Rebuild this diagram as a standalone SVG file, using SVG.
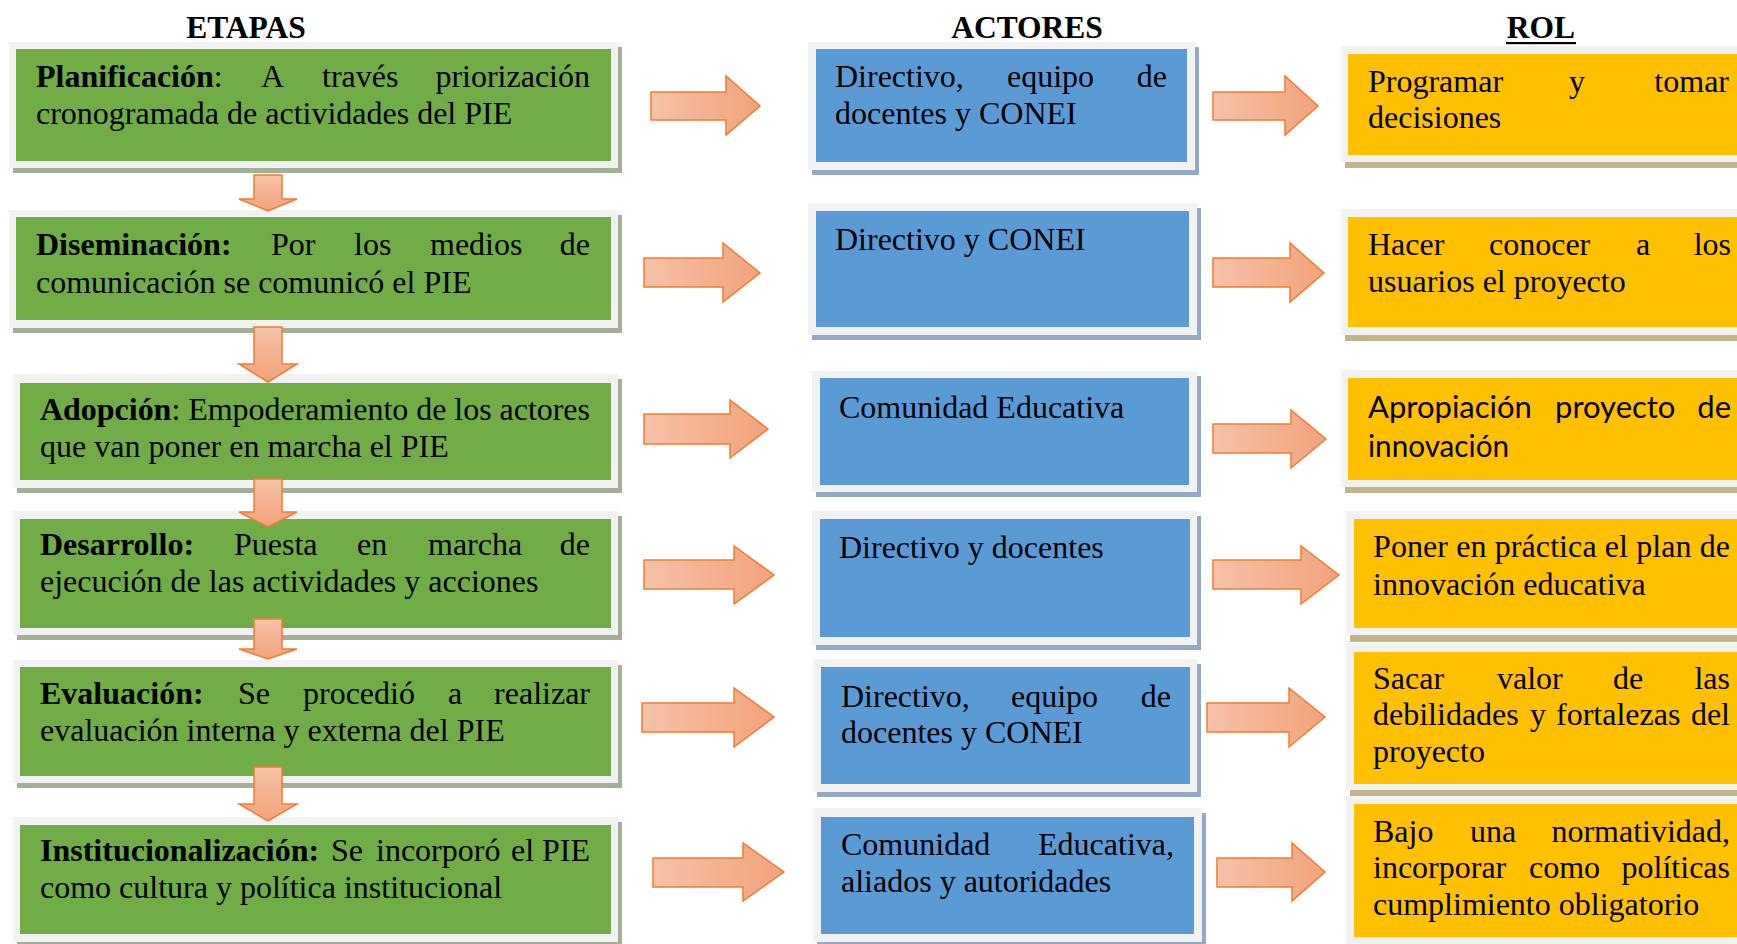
<svg xmlns="http://www.w3.org/2000/svg" width="1737" height="944" viewBox="0 0 1737 944">
<defs>
<linearGradient id="gh" x1="0" y1="0" x2="1" y2="0"><stop offset="0" stop-color="#f6c2a8"/><stop offset="1" stop-color="#f3a27b"/></linearGradient>
<linearGradient id="gv" x1="0" y1="0" x2="0" y2="1"><stop offset="0" stop-color="#f6c2a8"/><stop offset="1" stop-color="#f3a27b"/></linearGradient>
<style>
.fr{fill:#f2f2f2}
.sg{fill:#a3b096}.sb{fill:#94a9c2}.sy{fill:#c4b48c}
.g{fill:#70ad47}.b{fill:#5b9bd5}.y{fill:#ffc000}
.t{font-family:"Liberation Serif","Times New Roman",serif;font-size:32px;fill:#000}
.s{font-family:Lato,"Liberation Sans",sans-serif;font-size:31px;fill:#000}
.bd{font-weight:bold}
.h{font-family:"Liberation Serif","Times New Roman",serif;font-size:31.5px;font-weight:bold;fill:#000;text-anchor:middle}
.ah{fill:url(#gh);stroke:#ed7d31;stroke-width:1.5}
.av{fill:url(#gv);stroke:#ed7d31;stroke-width:1.5}
.e{text-anchor:end}
</style>
</defs>
<rect width="1737" height="944" fill="#fff"/>
<g id="headers">
<text class="h" x="246" y="38">ETAPAS</text>
<text class="h" x="1027" y="38">ACTORES</text>
<text class="h" x="1541" y="38">ROL</text>
<rect x="1506" y="42" width="70" height="2.2" fill="#000"/>
</g>
<g id="etapa1">
<rect class="sg" x="13" y="47" width="609" height="126"/><rect class="fr" x="9" y="42" width="609" height="126"/><rect class="g" x="16" y="49" width="595" height="112"/>
<text class="t" y="87"><tspan x="36" class="bd">Planificación</tspan><tspan>:</tspan><tspan x="261">A</tspan><tspan x="322">través</tspan><tspan x="590" class="e">priorización</tspan></text>
<text class="t" x="36" y="124">cronogramada de actividades del PIE</text>
</g>
<g id="etapa2">
<rect class="sg" x="13" y="215" width="609" height="118"/><rect class="fr" x="9" y="210" width="609" height="118"/><rect class="g" x="16" y="217" width="595" height="103"/>
<text class="t" y="255"><tspan x="36" class="bd">Diseminación:</tspan><tspan x="271">Por</tspan><tspan x="354">los</tspan><tspan x="430">medios</tspan><tspan x="590" class="e">de</tspan></text>
<text class="t" x="36" y="293">comunicación se comunicó el PIE</text>
</g>
<g id="etapa3">
<rect class="sg" x="17" y="379" width="605" height="114"/><rect class="fr" x="13" y="374" width="605" height="114"/><rect class="g" x="20" y="383" width="591" height="97"/>
<text class="t" y="420" x="40" textLength="550" lengthAdjust="spacing"><tspan class="bd">Adopción</tspan>: Empoderamiento de los actores</text>
<text class="t" x="40" y="457">que van poner en marcha el PIE</text>
</g>
<g id="etapa4">
<rect class="sg" x="17" y="516" width="605" height="124"/><rect class="fr" x="13" y="511" width="605" height="124"/><rect class="g" x="20" y="519" width="591" height="109"/>
<text class="t" y="555"><tspan x="40" class="bd">Desarrollo:</tspan><tspan x="234">Puesta</tspan><tspan x="357">en</tspan><tspan x="428">marcha</tspan><tspan x="590" class="e">de</tspan></text>
<text class="t" x="40" y="592">ejecución de las actividades y acciones</text>
</g>
<g id="etapa5">
<rect class="sg" x="17" y="665" width="605" height="123"/><rect class="fr" x="13" y="660" width="605" height="123"/><rect class="g" x="20" y="667" width="591" height="109"/>
<text class="t" y="704"><tspan x="40" class="bd">Evaluación:</tspan><tspan x="238">Se</tspan><tspan x="303">procedió</tspan><tspan x="448">a</tspan><tspan x="590" class="e">realizar</tspan></text>
<text class="t" x="40" y="741">evaluación interna y externa del PIE</text>
</g>
<g id="etapa6">
<rect class="sg" x="17" y="822" width="605" height="125"/><rect class="fr" x="13" y="817" width="605" height="125"/><rect class="g" x="20" y="825" width="591" height="109"/>
<text class="t" y="861"><tspan x="40" class="bd">Institucionalización:</tspan><tspan x="331">Se</tspan><tspan x="376">incorporó</tspan><tspan x="511">el</tspan><tspan x="590" class="e">PIE</tspan></text>
<text class="t" x="40" y="898">como cultura y política institucional</text>
</g>
<g id="actor1">
<rect class="sb" x="812" y="47" width="387" height="128"/><rect class="fr" x="808" y="42" width="387" height="128"/><rect class="b" x="816" y="49" width="371" height="113"/>
<text class="t" y="87"><tspan x="835">Directivo,</tspan><tspan x="1007">equipo</tspan><tspan x="1167" class="e">de</tspan></text>
<text class="t" x="835" y="124">docentes y CONEI</text>
</g>
<g id="actor2">
<rect class="sb" x="812" y="208" width="389" height="132"/><rect class="fr" x="808" y="203" width="389" height="132"/><rect class="b" x="816" y="211" width="373" height="116"/>
<text class="t" x="835" y="250">Directivo y CONEI</text>
</g>
<g id="actor3">
<rect class="sb" x="816" y="376" width="385" height="121"/><rect class="fr" x="812" y="371" width="385" height="121"/><rect class="b" x="820" y="378" width="369" height="107"/>
<text class="t" x="839" y="418">Comunidad Educativa</text>
</g>
<g id="actor4">
<rect class="sb" x="816" y="516" width="385" height="134"/><rect class="fr" x="812" y="511" width="385" height="134"/><rect class="b" x="820" y="519" width="370" height="118"/>
<text class="t" x="839" y="558">Directivo y docentes</text>
</g>
<g id="actor5">
<rect class="sb" x="817" y="664" width="384" height="133"/><rect class="fr" x="813" y="659" width="384" height="133"/><rect class="b" x="821" y="667" width="369" height="117"/>
<text class="t" y="707"><tspan x="841">Directivo,</tspan><tspan x="1011">equipo</tspan><tspan x="1171" class="e">de</tspan></text>
<text class="t" x="841" y="743">docentes y CONEI</text>
</g>
<g id="actor6">
<rect class="sb" x="817" y="813" width="389" height="134"/><rect class="fr" x="813" y="808" width="389" height="134"/><rect class="b" x="821" y="817" width="373" height="117"/>
<text class="t" y="855"><tspan x="841">Comunidad</tspan><tspan x="1174" class="e">Educativa,</tspan></text>
<text class="t" x="841" y="892">aliados y autoridades</text>
</g>
<g id="rol1">
<rect class="sy" x="1345" y="51" width="400" height="117"/><rect class="fr" x="1341" y="46" width="400" height="116"/><rect class="y" x="1348" y="54" width="400" height="101"/>
<text class="t" y="92"><tspan x="1368">Programar</tspan><tspan x="1569">y</tspan><tspan x="1729" class="e">tomar</tspan></text>
<text class="t" x="1368" y="128">decisiones</text>
</g>
<g id="rol2">
<rect class="sy" x="1345" y="214" width="400" height="127"/><rect class="fr" x="1341" y="209" width="400" height="126"/><rect class="y" x="1348" y="217" width="400" height="110"/>
<text class="t" y="255"><tspan x="1368">Hacer</tspan><tspan x="1489">conocer</tspan><tspan x="1636">a</tspan><tspan x="1731" class="e">los</tspan></text>
<text class="t" x="1368" y="292">usuarios el proyecto</text>
</g>
<g id="rol3">
<rect class="sy" x="1345" y="375" width="400" height="118"/><rect class="fr" x="1341" y="370" width="400" height="117"/><rect class="y" x="1348" y="378" width="400" height="102"/>
<text class="s" y="418"><tspan x="1368">Apropiación</tspan><tspan x="1555">proyecto</tspan><tspan x="1731" class="e">de</tspan></text>
<text class="s" x="1368" y="457" textLength="141" lengthAdjust="spacingAndGlyphs">innovación</text>
</g>
<g id="rol4">
<rect class="sy" x="1350" y="516" width="400" height="126"/><rect class="fr" x="1346" y="511" width="400" height="124"/><rect class="y" x="1354" y="519" width="400" height="109"/>
<text class="t" x="1373" y="557" textLength="357" lengthAdjust="spacing">Poner en práctica el plan de</text>
<text class="t" x="1373" y="595">innovación educativa</text>
</g>
<g id="rol5">
<rect class="sy" x="1350" y="648" width="400" height="148"/><rect class="fr" x="1346" y="643" width="400" height="147"/><rect class="y" x="1354" y="652" width="400" height="132"/>
<text class="t" y="689"><tspan x="1373">Sacar</tspan><tspan x="1497">valor</tspan><tspan x="1613">de</tspan><tspan x="1730" class="e">las</tspan></text>
<text class="t" y="725"><tspan x="1373">debilidades</tspan><tspan x="1530">y</tspan><tspan x="1556">fortalezas</tspan><tspan x="1730" class="e">del</tspan></text>
<text class="t" x="1373" y="762">proyecto</text>
</g>
<g id="rol6">
<rect class="sy" x="1350" y="801" width="400" height="148"/><rect class="fr" x="1346" y="796" width="400" height="148"/><rect class="y" x="1354" y="804" width="400" height="133"/>
<text class="t" y="842"><tspan x="1373">Bajo</tspan><tspan x="1470">una</tspan><tspan x="1730" class="e">normatividad,</tspan></text>
<text class="t" y="878"><tspan x="1373">incorporar</tspan><tspan x="1529">como</tspan><tspan x="1730" class="e">políticas</tspan></text>
<text class="t" x="1373" y="915">cumplimiento obligatorio</text>
</g>
<g id="connectors">
<polygon class="ah" points="651,92 726,92 726,76 760,106 726,135 726,120 651,120"/>
<polygon class="ah" points="644,258 723,258 723,243 760,273 723,302 723,287 644,287"/>
<polygon class="ah" points="644,414 730,414 730,400 768,429 730,458 730,444 644,444"/>
<polygon class="ah" points="644,560 734,560 734,546 774,575 734,604 734,589 644,589"/>
<polygon class="ah" points="642,703 734,703 734,688 774,717 734,747 734,732 642,732"/>
<polygon class="ah" points="653,858 743,858 743,843 784,872 743,901 743,887 653,887"/>
<polygon class="ah" points="1213,92 1285,92 1285,76 1318,106 1285,135 1285,120 1213,120"/>
<polygon class="ah" points="1213,258 1290,258 1290,243 1324,273 1290,302 1290,287 1213,287"/>
<polygon class="ah" points="1213,424 1291,424 1291,410 1326,439 1291,468 1291,453 1213,453"/>
<polygon class="ah" points="1213,560 1301,560 1301,546 1339,575 1301,604 1301,589 1213,589"/>
<polygon class="ah" points="1207,703 1289,703 1289,688 1325,717 1289,747 1289,732 1207,732"/>
<polygon class="ah" points="1217,858 1292,858 1292,843 1325,872 1292,901 1292,887 1217,887"/>
<polygon class="av" points="254,175 282,175 282,199 297,199 268,211 239,199 254,199"/>
<polygon class="av" points="254,327 282,327 282,364 297,364 268,382 239,364 254,364"/>
<polygon class="av" points="254,479 282,479 282,512 297,512 268,527 239,512 254,512"/>
<polygon class="av" points="254,619 282,619 282,649 297,649 268,659 239,649 254,649"/>
<polygon class="av" points="254,767 282,767 282,804 297,804 268,821 239,804 254,804"/>
</g>
</svg>
